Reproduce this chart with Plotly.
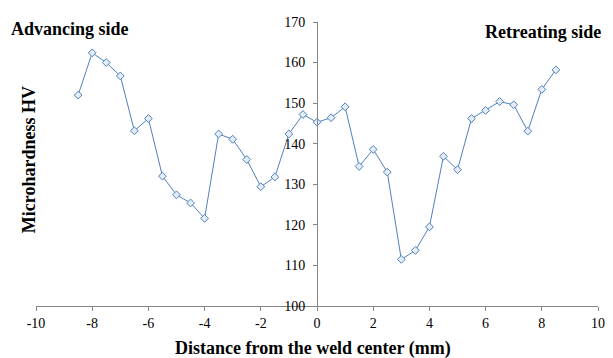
import plotly.graph_objects as go

distance_mm = [-8.5, -8, -7.5, -7, -6.5, -6, -5.5, -5, -4.5, -4, -3.5, -3, -2.5, -2, -1.5, -1, -0.5,
               0, 0.5, 1, 1.5, 2, 2.5, 3, 3.5, 4, 4.5, 5, 5.5, 6, 6.5, 7, 7.5, 8, 8.5]
hardness_hv = [152.0, 162.4, 160.0, 156.7, 143.2, 146.2, 132.0, 127.4, 125.4, 121.6, 142.4, 141.1, 136.1,
               129.4, 131.8, 142.4, 147.2, 145.3, 146.4, 149.1, 134.4, 138.6, 133.0, 111.5, 113.7, 119.5,
               136.9, 133.6, 146.2, 148.2, 150.4, 149.6, 143.1, 153.4, 158.2]
x_ticks = [-10, -8, -6, -4, -2, 0, 2, 4, 6, 8, 10]
y_ticks = [100, 110, 120, 130, 140, 150, 160, 170]

serif = "Liberation Serif, Times New Roman, serif"
blue = "#4F81BD"

fig = go.Figure()
fig.add_trace(go.Scatter(
    x=distance_mm, y=hardness_hv, mode="lines+markers",
    line=dict(color=blue, width=1),
    marker=dict(symbol="diamond", size=6, color="#E4ECF6", line=dict(color=blue, width=1)),
    showlegend=False,
))

# page body has an 8px margin, so the figure is 8px smaller than the window
fig.update_layout(
    width=605, height=350,
    margin=dict(l=28, r=15, t=7, b=52),
    paper_bgcolor="white", plot_bgcolor="white",
    font=dict(family=serif, size=14, color="black"),
    xaxis=dict(range=[-10, 10], tickvals=x_ticks, ticktext=[str(v) for v in x_ticks],
               showgrid=False, zeroline=False, showline=True, linecolor="#868686", linewidth=1,
               ticks="outside", ticklen=4, tickcolor="#868686", tickfont=dict(family=serif, size=14),
               anchor="y"),
    yaxis=dict(range=[100, 170], tickvals=y_ticks, ticktext=[str(v) for v in y_ticks],
               showgrid=False, zeroline=False, showline=True, linecolor="#868686", linewidth=1,
               ticks="outside", ticklen=4, tickcolor="#868686", tickfont=dict(family=serif, size=14),
               anchor="free", position=0.5, side="left", ticklabeloverflow="allow",
               ticklabelstandoff=5),
    annotations=[
        dict(text="<b>Microhardness HV</b>", xref="paper", yref="paper", x=-0.0133, y=0.515,
             textangle=-90, showarrow=False, font=dict(family=serif, size=18), xanchor="center", yanchor="middle"),
        dict(text="<b>Distance from the weld center (mm)</b>", xref="paper", yref="paper", x=0.492, y=-0.151,
             showarrow=False, font=dict(family=serif, size=18), xanchor="center", yanchor="middle"),
        dict(text="<b>Advancing side</b>", xref="paper", yref="paper", x=-0.0475, y=0.976,
             showarrow=False, font=dict(family=serif, size=18), xanchor="left", yanchor="middle"),
        dict(text="<b>Retreating side</b>", xref="paper", yref="paper", x=1.0095, y=0.966,
             showarrow=False, font=dict(family=serif, size=18), xanchor="right", yanchor="middle"),
    ],
)

fig.write_html("out.html")
